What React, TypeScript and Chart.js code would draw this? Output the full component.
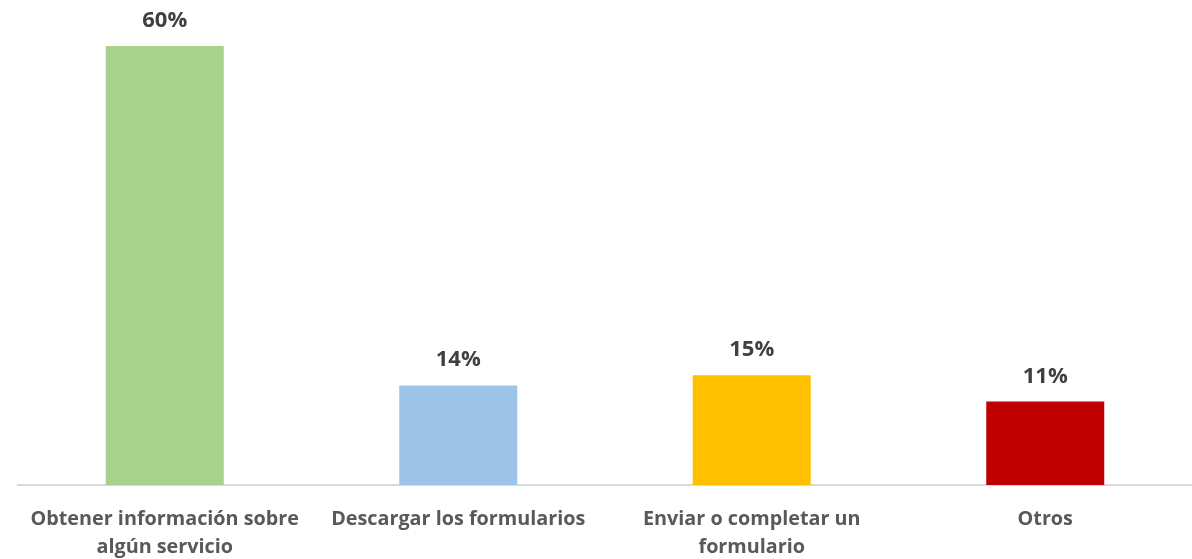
import React, { useEffect, useRef } from "react";
import { Chart, registerables } from "chart.js";

Chart.register(...registerables);

const categories: string[][] = [
  ["Obtener información sobre", "algún servicio"],
  ["Descargar los formularios"],
  ["Enviar o completar un", "formulario"],
  ["Otros"],
];
const values: number[] = [60, 13.6, 15.0, 11.4];
const barColors: string[] = ["#A9D18E", "#9DC3E6", "#FFC000", "#C00000"];

const dataLabelPlugin = {
  id: "dataLabels",
  afterDatasetsDraw(chart: any) {
    const ctx = chart.ctx;
    const meta = chart.getDatasetMeta(0);
    ctx.save();
    ctx.font = "bold 22px 'Open Sans', sans-serif";
    ctx.fillStyle = "#404040";
    ctx.textAlign = "center";
    ctx.textBaseline = "alphabetic";
    meta.data.forEach((el: any, i: number) => {
      const v = values[i];
      ctx.fillText(Math.round(v) + "%", el.x, el.y - 19);
    });
    ctx.restore();
  },
};

export default function App() {
  const ref = useRef<HTMLCanvasElement>(null);
  useEffect(() => {
    if (!ref.current) return;
    const chart = new Chart(ref.current, {
      type: "bar",
      data: {
        labels: categories,
        datasets: [
          {
            data: values,
            backgroundColor: barColors,
            borderWidth: 0,
            categoryPercentage: 1,
            barPercentage: 0.402,
          },
        ],
      },
      options: {
        responsive: false,
        animation: false,
        layout: { padding: { top: 2, left: 18, right: 0, bottom: 0 } },
        plugins: { legend: { display: false }, tooltip: { enabled: false } },
        scales: {
          x: {
            grid: { display: false, drawTicks: false },
            border: { display: true, color: "#D9D9D9", width: 2 },
            afterFit: (scale: any) => {
              scale.height = 74;
            },
            ticks: {
              color: "#595959",
              font: { family: "'Open Sans', sans-serif", size: 19.8, weight: "bold", lineHeight: "28px" },
              padding: 20,
              maxRotation: 0,
              autoSkip: false,
            },
          },
          y: {
            display: false,
            min: 0,
            max: 66,
          },
        },
      },
      plugins: [dataLabelPlugin],
    });
    return () => chart.destroy();
  }, []);
  return (
    <div style={{ position: "absolute", left: 0, top: 0, width: 1192, height: 559, background: "#fff" }}>
      <canvas ref={ref} width={1192} height={559} style={{ display: "block" }} />
    </div>
  );
}
